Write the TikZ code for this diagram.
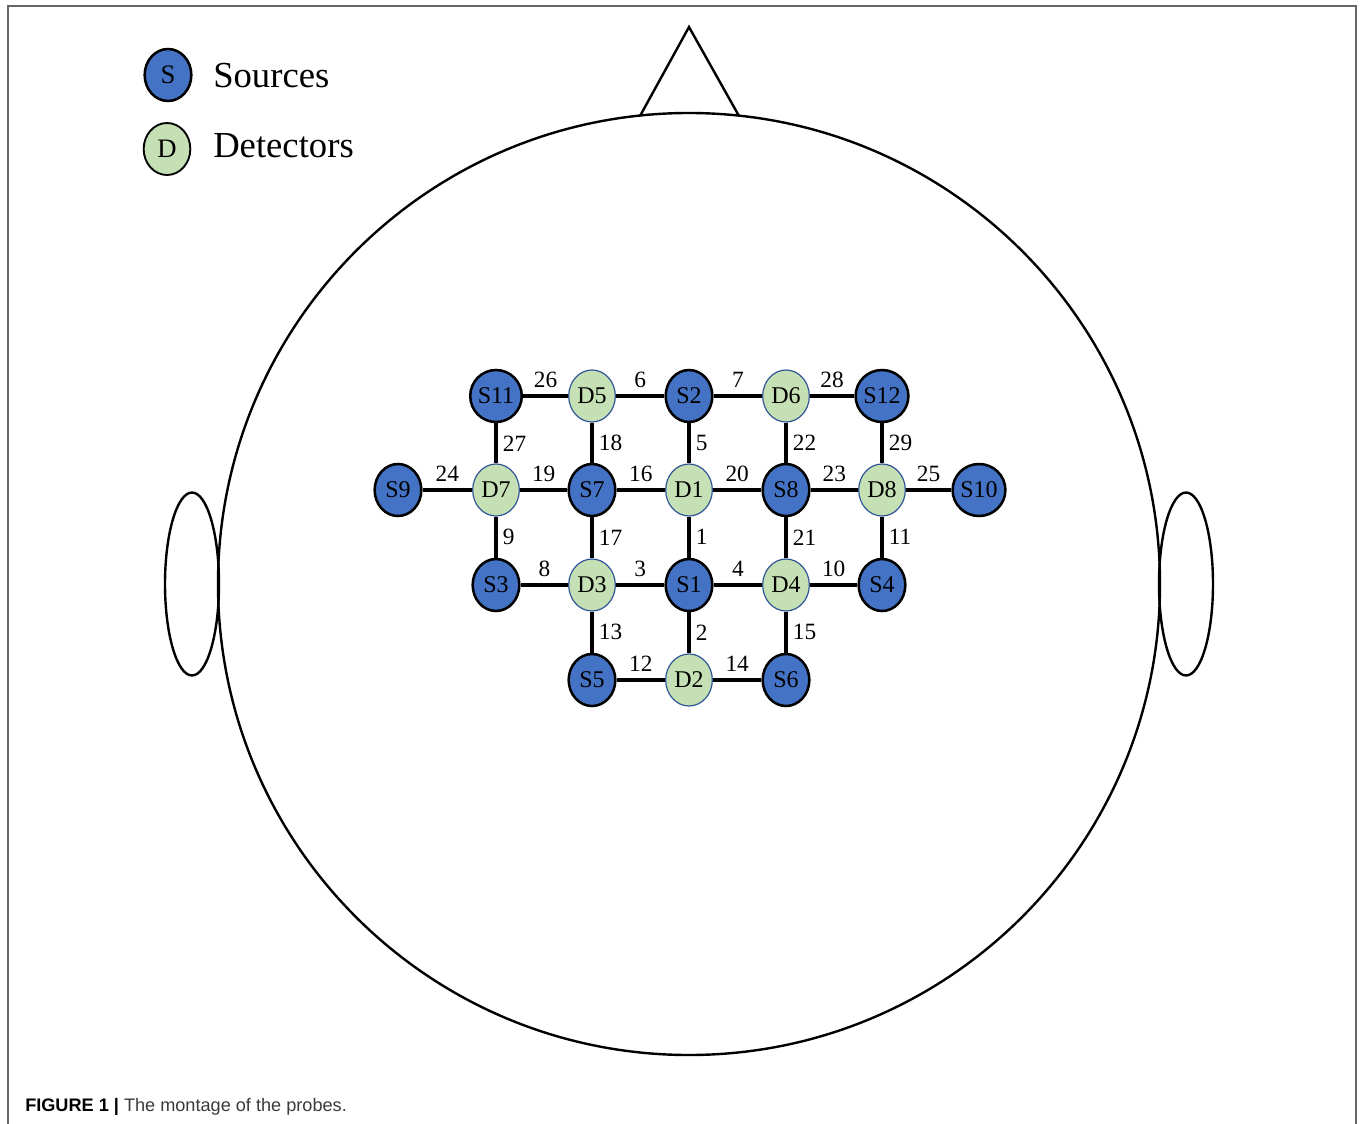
\documentclass[tikz,border=0pt]{standalone}
\usepackage{fontspec}
\setmainfont{Liberation Serif}
\newfontfamily\capfont{Liberation Sans}
\usetikzlibrary{shapes.geometric}
\definecolor{srcblue}{HTML}{4472C4}
\definecolor{detgreen}{HTML}{C5E0B4}
\definecolor{detline}{HTML}{2F5597}
\definecolor{framegray}{HTML}{666666}
\definecolor{capgray}{HTML}{3A3A3A}

\begin{document}
\begin{tikzpicture}[x=0.75pt,y=-0.75pt,
  probe/.style={ellipse, minimum width=35pt, minimum height=39pt, inner sep=0pt,
    font=\fontsize{18}{18}\selectfont},
  src/.style={probe, draw=black, line width=1.9pt, fill=srcblue},
  det/.style={probe, draw=detline, line width=0.9pt, fill=detgreen},
  link/.style={line width=2.3pt},
  hl/.style={midway, above, inner sep=5pt, font=\fontsize{17.5}{17.5}\selectfont},
  vl/.style={midway, right, inner sep=4pt, font=\fontsize{17.5}{17.5}\selectfont},
  outline/.style={line width=1.8pt},
  legendtext/.style={anchor=base west, inner sep=0pt, font=\fontsize{27.5}{27.5}\selectfont}]

\useasboundingbox (0,0) rectangle (1360,1124);

% panel frame, open at the bottom
\draw[framegray, line width=1pt] (8,1124) -- (8,6) -- (1356,6) -- (1356,1124);

% head outline, nose and ears
\coordinate (headc) at (689,584);
\draw[outline] (headc) circle[radius=353.25pt];
\coordinate (noseL) at (640,116);
\coordinate (noseT) at (689,27);
\coordinate (noseR) at (739,116);
\draw[outline, line join=miter] (noseL) -- (noseT) -- (noseR);
\coordinate (earL) at (192,584);
\coordinate (earR) at (1186,584);
\draw[outline] (earL) ellipse[x radius=20.25pt, y radius=68.6pt];
\draw[outline] (earR) ellipse[x radius=20.25pt, y radius=68.6pt];

% legend
\node[src, font=\fontsize{20}{20}\selectfont] (legS) at (168,75) {S};
\node[det, draw=black, line width=1.4pt, font=\fontsize{20}{20}\selectfont] (legD) at (167,149) {D};
\node[legendtext] (legSt) at (213,88) {Sources};
\node[legendtext] (legDt) at (213,157) {Detectors};

% probes, row 1
\node[src] (S11) at (496,396) {S11};
\node[det] (D5)  at (592,396) {D5};
\node[src] (S2)  at (689,396) {S2};
\node[det] (D6)  at (786,396) {D6};
\node[src] (S12) at (882,396) {S12};
% row 2
\node[src] (S9)  at (398,490) {S9};
\node[det] (D7)  at (496,490) {D7};
\node[src] (S7)  at (592,490) {S7};
\node[det] (D1)  at (689,490) {D1};
\node[src] (S8)  at (786,490) {S8};
\node[det] (D8)  at (882,490) {D8};
\node[src] (S10) at (979,490) {S10};
% row 3
\node[src] (S3)  at (496,585) {S3};
\node[det] (D3)  at (592,585) {D3};
\node[src] (S1)  at (689,585) {S1};
\node[det] (D4)  at (786,585) {D4};
\node[src] (S4)  at (882,585) {S4};
% row 4
\node[src] (S5)  at (592,680) {S5};
\node[det] (D2)  at (689,680) {D2};
\node[src] (S6)  at (786,680) {S6};

% horizontal channels
\draw[link] (S11) -- node[hl] {26} (D5);
\draw[link] (D5)  -- node[hl] {6}  (S2);
\draw[link] (S2)  -- node[hl] {7}  (D6);
\draw[link] (D6)  -- node[hl] {28} (S12);
\draw[link] (S9)  -- node[hl] {24} (D7);
\draw[link] (D7)  -- node[hl] {19} (S7);
\draw[link] (S7)  -- node[hl] {16} (D1);
\draw[link] (D1)  -- node[hl] {20} (S8);
\draw[link] (S8)  -- node[hl] {23} (D8);
\draw[link] (D8)  -- node[hl] {25} (S10);
\draw[link] (S3)  -- node[hl] {8}  (D3);
\draw[link] (D3)  -- node[hl] {3}  (S1);
\draw[link] (S1)  -- node[hl] {4}  (D4);
\draw[link] (D4)  -- node[hl] {10} (S4);
\draw[link] (S5)  -- node[hl] {12} (D2);
\draw[link] (D2)  -- node[hl] {14} (S6);

% vertical channels
\draw[link] (S11) -- node[vl] {27} (D7);
\draw[link] (D5)  -- node[vl] {18} (S7);
\draw[link] (S2)  -- node[vl] {5}  (D1);
\draw[link] (D6)  -- node[vl] {22} (S8);
\draw[link] (S12) -- node[vl] {29} (D8);
\draw[link] (D7)  -- node[vl] {9}  (S3);
\draw[link] (S7)  -- node[vl] {17} (D3);
\draw[link] (D1)  -- node[vl] {1}  (S1);
\draw[link] (S8)  -- node[vl] {21} (D4);
\draw[link] (D8)  -- node[vl] {11} (S4);
\draw[link] (D3)  -- node[vl] {13} (S5);
\draw[link] (S1)  -- node[vl] {2}  (D2);
\draw[link] (D4)  -- node[vl] {15} (S6);

% caption
\node[anchor=base west, inner sep=0pt] (caption) at (25,1111)
  {\capfont\fontsize{13.6}{15}\selectfont\textbf{FIGURE 1 |} \textcolor{capgray}{The montage of the probes.}};
\end{tikzpicture}
\end{document}
